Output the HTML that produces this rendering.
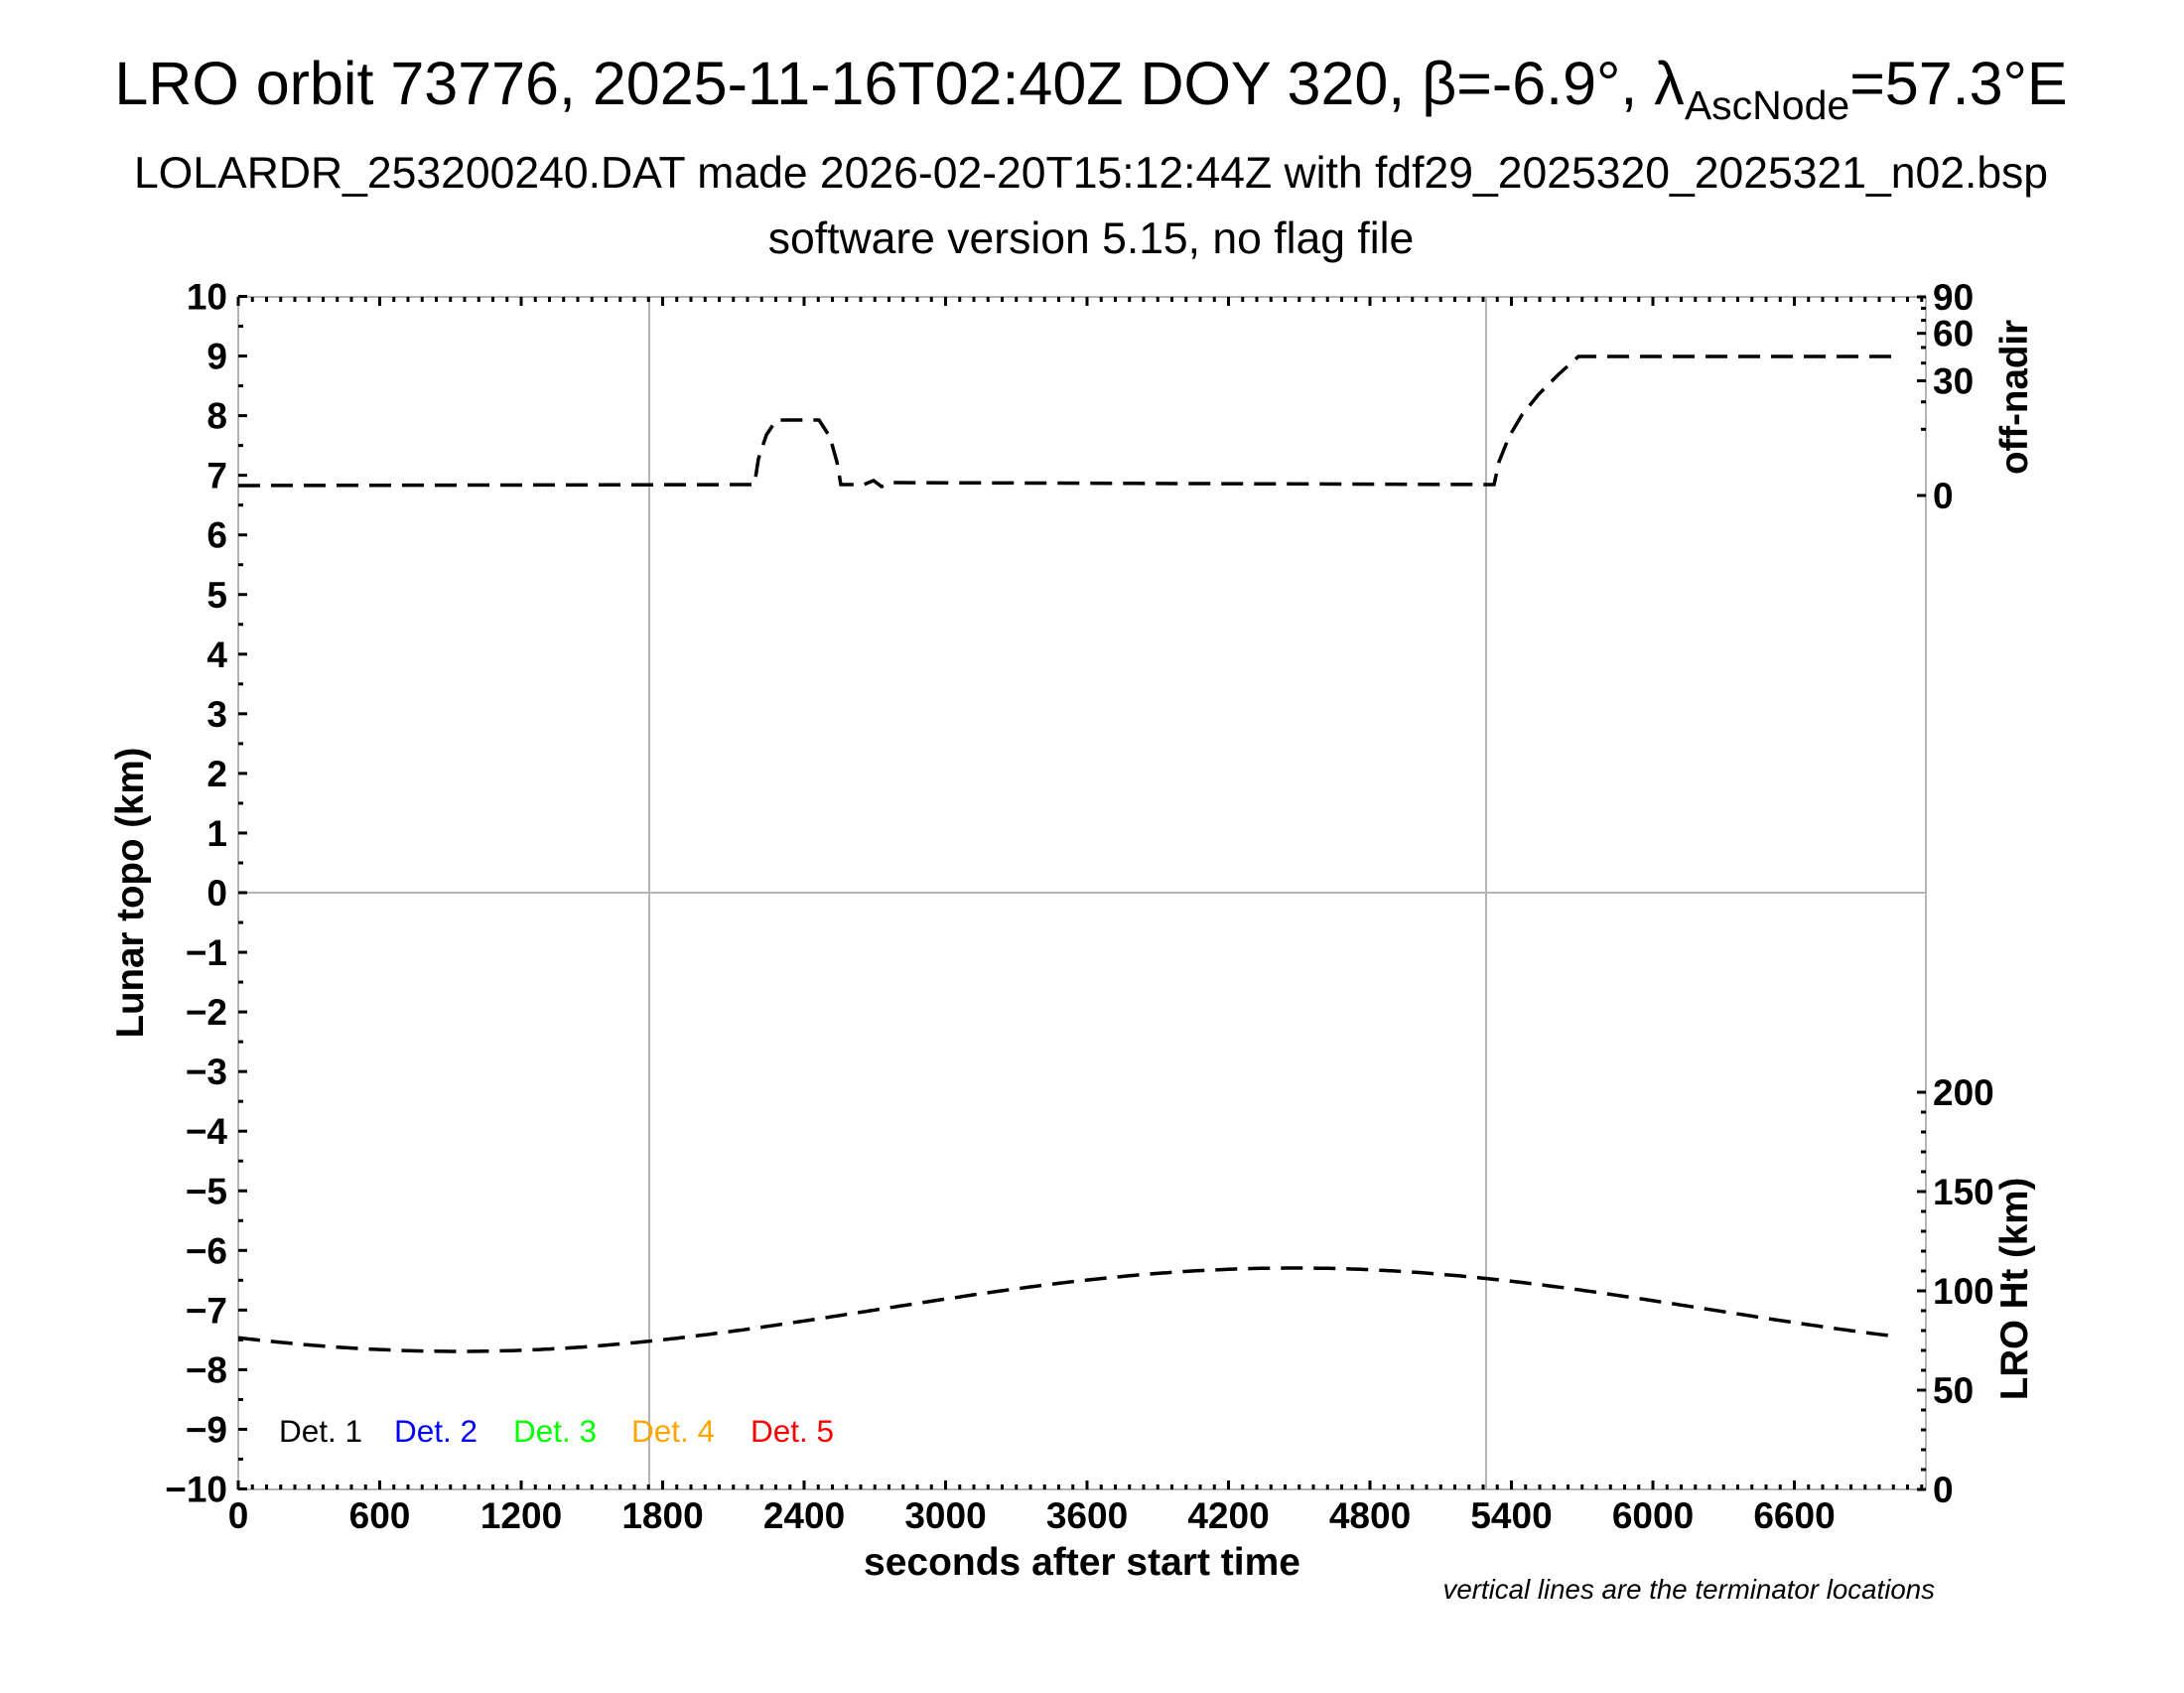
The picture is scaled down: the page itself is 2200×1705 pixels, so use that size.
<!DOCTYPE html>
<html><head><meta charset="utf-8"><style>
html,body{margin:0;padding:0;background:#fff}
svg text{font-family:"Liberation Sans",Arial,sans-serif}
</style></head><body>
<svg id="s" width="2200" height="1700" viewBox="0 0 2200 1700" xmlns="http://www.w3.org/2000/svg">
<rect width="2200" height="1700" fill="#fff"/>
<text x="1099" y="105" font-size="61" text-anchor="middle">LRO orbit 73776, 2025-11-16T02:40Z DOY 320, β=-6.9°, λ<tspan font-size="41" dy="15">AscNode</tspan><tspan dy="-15">=57.3°E</tspan></text>
<text x="1099" y="189" font-size="44.5" text-anchor="middle">LOLARDR_253200240.DAT made 2026-02-20T15:12:44Z with fdf29_2025320_2025321_n02.bsp</text>
<text x="1099" y="255" font-size="44.5" text-anchor="middle">software version 5.15, no flag file</text>
<g id="grid" stroke="#b4b4b4" stroke-width="2" fill="none">
<rect x="240" y="299" width="1700" height="1201"/>
<line x1="240" y1="899" x2="1940" y2="899"/>
<line x1="654" y1="299" x2="654" y2="1500"/>
<line x1="1497" y1="299" x2="1497" y2="1500"/>
</g>
<g id="ticks" stroke="#000" stroke-width="3"></g>
<g id="labels" font-size="37" font-weight="bold"></g>
<path id="ht" fill="none" stroke="#000" stroke-width="3.5" stroke-dasharray="22,11"/>
<path fill="none" stroke="#000" stroke-width="3.5" stroke-dasharray="22,11" d="M240,489 L757,488 L760,488 L764,462 L772,438 L782,423 L825,423 L836,440 L843,465 L847,488 L870,488 L880,484 L888,490 L898,486 L1505,488 L1510,465 L1520,440 L1533,418 L1550,397 L1570,377 L1590,359 L1908,359"/>
<text transform="translate(144,899) rotate(-90)" font-size="38.5" font-weight="bold" text-anchor="middle">Lunar topo (km)</text>
<text transform="translate(2042,400) rotate(-90)" font-size="38.5" font-weight="bold" text-anchor="middle">off-nadir</text>
<text transform="translate(2042,1298) rotate(-90)" font-size="38.5" font-weight="bold" text-anchor="middle">LRO Ht (km)</text>
<text x="1090" y="1586" font-size="39" font-weight="bold" text-anchor="middle">seconds after start time</text>
<text x="1949" y="1610" font-size="27.7" font-style="italic" text-anchor="end">vertical lines are the terminator locations</text>
<g font-size="31.5">
<text x="281" y="1452" fill="#000">Det. 1</text>
<text x="397" y="1452" fill="#0000ff">Det. 2</text>
<text x="517" y="1452" fill="#00ff00">Det. 3</text>
<text x="636" y="1452" fill="#ffa500">Det. 4</text>
<text x="756" y="1452" fill="#ff0000">Det. 5</text>
</g>
</svg>
<script>
var NS="http://www.w3.org/2000/svg";
function el(p,t,a,txt){var e=document.createElementNS(NS,t);for(var k in a)e.setAttribute(k,a[k]);if(txt!==undefined)e.textContent=txt;document.getElementById(p).appendChild(e);}
var X0=240,PX=142.5/600;
function xs(s){return X0+s*PX;}
for(var s=0;s<=7150;s+=60){var x=xs(s);var L=(s%600==0)?9:5;
 el("ticks","line",{x1:x,y1:1500,x2:x,y2:1500-L});el("ticks","line",{x1:x,y1:299,x2:x,y2:299+L});}
for(var s=0;s<=6600;s+=600){el("labels","text",{x:xs(s),y:1539,"text-anchor":"middle"},String(s));}
for(var v=-10;v<=10;v+=0.5){var y=899-v*60.05;var L=(v%1==0)?9:5;el("ticks","line",{x1:240,y1:y,x2:240+L,y2:y});}
for(var v=-10;v<=10;v++){var y=899-v*60.05;el("labels","text",{x:229,y:y+13,"text-anchor":"end"},(v<0?"\u2212"+(-v):String(v)));}
for(var h=0;h<=200;h+=10){var y=1500-h*2;var L=(h%50==0)?9:5;el("ticks","line",{x1:1940,y1:y,x2:1940-L,y2:y});}
for(var h=0;h<=200;h+=50){el("labels","text",{x:1947,y:1500-h*2+13},String(h));}
for(var a=0;a<=90;a+=10){var y=499-200*Math.sqrt(a/90);el("ticks","line",{x1:1940,y1:y,x2:1940-((a%30==0)?9:5),y2:y});}
[0,30,60,90].forEach(function(a){var y=499-200*Math.sqrt(a/90);el("labels","text",{x:1947,y:y+13},String(a));});
var d="";for(var s=0;s<=7015;s+=20){var h=90.5-21*Math.cos(2*Math.PI*(s-937)/7080);d+=(s?"L":"M")+xs(s).toFixed(1)+","+(1500-2*h).toFixed(1);}
document.getElementById("ht").setAttribute("d",d);
</script>
</body></html>
